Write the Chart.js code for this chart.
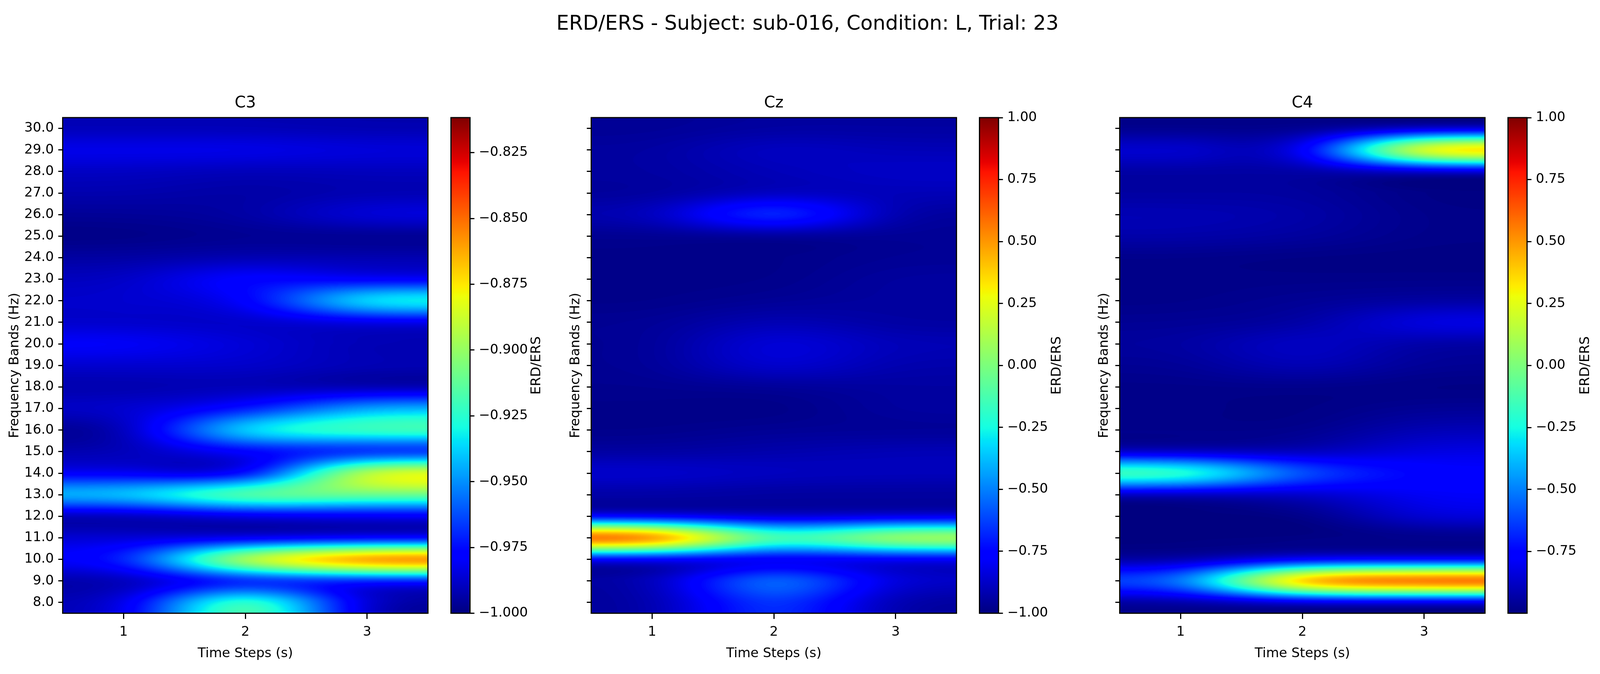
<!DOCTYPE html>
<html lang="en">
  <head>
    <meta charset="UTF-8" />
    <title>ERD/ERS</title>
    <script src="https://cdn.jsdelivr.net/npm/chart.js@4"></script>
    <style>
      body { margin: 0; background: #fff; overflow: hidden; }
      canvas { position: absolute; top: 180px; }
      #suptitle {
        position: absolute; top: 58px; transform: translate(-50%, -50%);
        font-family: "DejaVu Sans"; color: #000; white-space: nowrap;
      }
    </style>
  </head>
  <body>
    <div id="suptitle">ERD/ERS - Subject: sub-016, Condition: L, Trial: 23</div>

    <script>
      const timeSteps = [1, 2, 3];
      const bands = [30, 29, 28, 27, 26, 25, 24, 23, 22, 21, 20, 19, 18, 17, 16, 15, 14, 13, 12, 11, 10, 9, 8];

      // one row per band (30 Hz first), one value per time step
      const c3Values = [
        [-0.991, -0.991, -0.992], [-0.981, -0.981, -0.984], [-0.989, -0.991, -0.990],
        [-0.992, -0.994, -0.992], [-0.996, -0.994, -0.983], [-0.999, -0.997, -0.998],
        [-0.994, -0.992, -0.992], [-0.989, -0.974, -0.983], [-0.987, -0.982, -0.921],
        [-0.988, -0.989, -0.987], [-0.978, -0.985, -0.992], [-0.987, -0.987, -0.991],
        [-0.993, -0.992, -0.996], [-0.987, -0.976, -0.942], [-0.996, -0.925, -0.912],
        [-0.992, -0.981, -0.982], [-0.983, -0.992, -0.872], [-0.934, -0.898, -0.906],
        [-0.996, -0.990, -0.987], [-0.986, -0.991, -0.990], [-0.975, -0.872, -0.830],
        [-0.994, -0.983, -0.982], [-0.989, -0.902, -0.994]
      ];
      const czValues = [
        [-0.96, -0.94, -0.94], [-0.94, -0.87, -0.90], [-0.94, -0.90, -0.87],
        [-0.95, -0.90, -0.90], [-0.90, -0.56, -0.94], [-0.97, -0.98, -0.96],
        [-0.98, -0.98, -0.96], [-0.98, -0.98, -0.94], [-0.98, -0.96, -0.94],
        [-0.96, -0.90, -0.94], [-0.96, -0.82, -0.90], [-0.96, -0.84, -0.92],
        [-0.97, -0.96, -0.94], [-0.98, -0.99, -0.94], [-0.98, -0.96, -0.96],
        [-0.94, -0.92, -0.90], [-0.85, -0.88, -0.89], [-0.94, -0.95, -0.95],
        [-0.91, -0.92, -0.91], [0.90, -0.08, 0.28], [-0.92, -0.89, -0.88],
        [-0.93, -0.43, -0.86], [-0.94, -0.60, -0.94]
      ];
      const c4Values = [
        [-0.98, -0.98, -0.98], [-0.84, -0.88, 0.62], [-0.94, -0.94, -0.98],
        [-0.94, -0.94, -0.99], [-0.90, -0.92, -0.98], [-0.92, -0.94, -0.98],
        [-0.98, -0.99, -0.99], [-0.98, -0.98, -0.98], [-0.98, -0.96, -0.94],
        [-0.96, -0.94, -0.80], [-0.94, -0.86, -0.94], [-0.96, -0.89, -0.96],
        [-0.98, -0.98, -0.99], [-0.98, -0.99, -0.96], [-0.98, -0.98, -0.90],
        [-0.94, -0.92, -0.82], [0.00, -0.56, -0.76], [-0.96, -0.89, -0.78],
        [-0.999, -0.999, -0.83], [-0.999, -0.999, -0.999], [-0.96, -0.88, -0.88],
        [-0.53, 0.78, 0.92], [-0.97, -0.976, -0.98]
      ];

      const c3Range = [-1.0, -0.8117];
      const czRange = [-1.0, 1.0];
      const c4Range = [-0.999, 1.0];
      const c3BarTicks = [-1.0, -0.975, -0.95, -0.925, -0.9, -0.875, -0.85, -0.825];
      const czBarTicks = [-1.0, -0.75, -0.5, -0.25, 0, 0.25, 0.5, 0.75, 1.0];
      const c4BarTicks = [-0.75, -0.5, -0.25, 0, 0.25, 0.5, 0.75, 1.0];

      // the browser caps the window at 4096 wide, so the 5322 wide layout is
      // squeezed along x only; fonts shrink a bit so labels still fit
      const SX = Math.min(1, window.innerWidth / 5322);
      const FS = SX + (1 - SX) * 0.2;
      const FONT = "DejaVu Sans";
      const TICK_PX = 41.67 * FS;
      const AXIS_TITLE_PX = 50 * FS;
      const LINE_PX = 3;
      const TICK_LEN = 14.6;

      const title = document.getElementById("suptitle");
      title.style.left = 2686 * SX + "px";
      title.style.fontSize = 66.67 * SX + "px";

      // matplotlib jet, 256 levels
      const JET_R = [[0, 0], [0.35, 0], [0.66, 1], [0.89, 1], [1, 0.5]];
      const JET_G = [[0, 0], [0.125, 0], [0.375, 1], [0.64, 1], [0.91, 0], [1, 0]];
      const JET_B = [[0, 0.5], [0.11, 1], [0.34, 1], [0.65, 0], [1, 0]];
      function seg(table, n) {
        for (let i = 1; i < table.length; i++) {
          if (n <= table[i][0]) {
            const a = table[i - 1], b = table[i];
            return a[1] + (b[1] - a[1]) * (n - a[0]) / (b[0] - a[0]);
          }
        }
        return table[table.length - 1][1];
      }
      const jetLut = [];
      for (let i = 0; i < 256; i++) {
        const n = i / 255;
        jetLut.push([seg(JET_R, n) * 255, seg(JET_G, n) * 255, seg(JET_B, n) * 255]);
      }
      function lutIndex(n) {
        return Math.max(0, Math.min(255, Math.floor(n * 256)));
      }

      // smooth cubic image kernel
      const KB = 0.6, KC = 0.2;
      function kernel(x) {
        x = Math.abs(x);
        if (x < 1) return ((12 - 9 * KB - 6 * KC) * x * x * x + (-18 + 12 * KB + 6 * KC) * x * x + (6 - 2 * KB)) / 6;
        if (x < 2) return ((-KB - 6 * KC) * x * x * x + (6 * KB + 30 * KC) * x * x + (-12 * KB - 48 * KC) * x + (8 * KB + 24 * KC)) / 6;
        return 0;
      }
      function weights(pos, count) {
        const i0 = Math.floor(pos), out = [];
        for (let i = i0 - 1; i <= i0 + 2; i++) {
          out.push([Math.max(0, Math.min(count - 1, i)), kernel(pos - i)]);
        }
        return out;
      }

      const heatmapPlugin = {
        id: "heatmap",
        beforeDatasetsDraw(chart, args, opts) {
          const { ctx, chartArea, scales } = chart;
          const x0 = Math.floor(chartArea.left), y0 = Math.floor(chartArea.top);
          const w = Math.ceil(chartArea.right) - x0, h = Math.ceil(chartArea.bottom) - y0;
          const img = ctx.createImageData(w, h);
          const rowsW = [];
          for (let py = 0; py < h; py++) {
            const f = scales.y.getValueForPixel(y0 + py + 0.5);
            rowsW.push(weights(bands[0] - f, bands.length));
          }
          const column = new Float64Array(bands.length);
          for (let px = 0; px < w; px++) {
            const t = scales.x.getValueForPixel(x0 + px + 0.5);
            const colW = weights(t - timeSteps[0], timeSteps.length);
            for (let r = 0; r < bands.length; r++) {
              let s = 0;
              for (const [c, k] of colW) s += k * opts.values[r][c];
              column[r] = s;
            }
            for (let py = 0; py < h; py++) {
              let s = 0;
              for (const [r, k] of rowsW[py]) s += k * column[r];
              const rgb = jetLut[lutIndex((s - opts.range[0]) / (opts.range[1] - opts.range[0]))];
              const o = (py * w + px) * 4;
              img.data[o] = rgb[0];
              img.data[o + 1] = rgb[1];
              img.data[o + 2] = rgb[2];
              img.data[o + 3] = 255;
            }
          }
          ctx.putImageData(img, x0, y0);
        }
      };

      const framePlugin = {
        id: "frame",
        afterDraw(chart, args, opts) {
          const { ctx, chartArea } = chart;
          ctx.save();
          ctx.strokeStyle = "#000";
          ctx.lineWidth = LINE_PX;
          ctx.strokeRect(chartArea.left, chartArea.top, chartArea.width, chartArea.height);
          if (opts.label) {
            ctx.translate(chartArea.right + opts.labelOffset, (chartArea.top + chartArea.bottom) / 2);
            ctx.rotate(-Math.PI / 2);
            ctx.font = TICK_PX + 'px "' + FONT + '"';
            ctx.fillStyle = "#000";
            ctx.textAlign = "center";
            ctx.textBaseline = "middle";
            ctx.fillText(opts.label, 0, 0);
          }
          ctx.restore();
        }
      };

      function tickGrid(len) {
        return {
          drawOnChartArea: false, drawTicks: true, tickLength: len,
          tickWidth: LINE_PX, tickColor: "#000"
        };
      }

      function addCanvas(left, width) {
        const c = document.createElement("canvas");
        c.width = width;
        c.height = 1545;
        c.style.left = left + "px";
        document.body.appendChild(c);
        return c;
      }

      // plotLeft / plotRight / labelX are in 5322 wide reference pixels
      function heatmap(name, values, range, plotLeft, plotRight, labelX, showLabels) {
        const left = Math.floor(showLabels ? 0 : (plotLeft - 86.5) * SX);
        const axisWidth = plotLeft * SX - left;
        const width = Math.ceil(plotRight * SX - left) + 16;
        const points = [];
        bands.forEach((f, r) => timeSteps.forEach((t, c) => points.push({ x: t, y: f, v: values[r][c] })));
        new Chart(addCanvas(left, width), {
          type: "scatter",
          data: { datasets: [{ data: points, pointRadius: 0, showLine: false }] },
          plugins: [heatmapPlugin, framePlugin],
          options: {
            responsive: false, animation: false, devicePixelRatio: 1,
            layout: { padding: { left: 0, top: 0, bottom: 0, right: width - (plotRight * SX - left) } },
            plugins: {
              legend: { display: false },
              tooltip: { enabled: false },
              heatmap: { values: values, range: range },
              title: {
                display: true, text: name, color: "#000", fullSize: false,
                font: { family: FONT, size: AXIS_TITLE_PX, weight: "normal", lineHeight: 1 },
                padding: { top: 84 - AXIS_TITLE_PX / 2, bottom: 121 - 84 - AXIS_TITLE_PX / 2 }
              }
            },
            scales: {
              x: {
                type: "linear", min: 0.5, max: 3.5,
                afterBuildTicks: (s) => { s.ticks = timeSteps.map((v) => ({ value: v })); },
                afterFit: (s) => { s.height = 155.5; },
                border: { display: false },
                grid: tickGrid(TICK_LEN),
                ticks: {
                  color: "#000", padding: 17, maxRotation: 0,
                  font: { family: FONT, size: TICK_PX, lineHeight: 1 },
                  callback: (v) => String(v)
                },
                title: {
                  display: true, text: "Time Steps (s)", color: "#000",
                  font: { family: FONT, size: TICK_PX, lineHeight: 1 },
                  padding: { top: 0, bottom: 52 - TICK_PX / 2 }
                }
              },
              y: {
                type: "linear", min: 7.5, max: 30.5,
                afterBuildTicks: (s) => { s.ticks = bands.map((v) => ({ value: v })); },
                afterFit: (s) => { s.width = axisWidth; },
                border: { display: false },
                grid: tickGrid(TICK_LEN * SX),
                ticks: {
                  display: showLabels, autoSkip: false, color: "#000", padding: TICK_LEN * SX,
                  font: { family: FONT, size: TICK_PX, lineHeight: 1 },
                  callback: (v) => Number(v).toFixed(1)
                },
                title: {
                  display: true, text: "Frequency Bands (Hz)", color: "#000",
                  font: { family: FONT, size: TICK_PX, lineHeight: 1 },
                  padding: { top: labelX * SX - left - TICK_PX / 2, bottom: 0 }
                }
              }
            }
          }
        });
      }

      function colorbar(range, tickValues, digits, barLeft, labelX) {
        const left = Math.floor(barLeft * SX - 20);
        const barWidth = 63.4 * SX;
        const axisWidth = 238.6 * SX;
        const pad = barLeft * SX - left;
        const width = Math.ceil(pad + barWidth + axisWidth);
        new Chart(addCanvas(left, width), {
          type: "bar",
          data: {
            labels: ["ERD/ERS"],
            datasets: [{
              data: [[range[0], range[1]]],
              barPercentage: 1, categoryPercentage: 1, borderWidth: 0,
              backgroundColor: (ctx) => {
                const area = ctx.chart.chartArea;
                if (!area) return "#000";
                const g = ctx.chart.ctx.createLinearGradient(0, area.bottom, 0, area.top);
                jetLut.forEach((c, i) => g.addColorStop(i / 255, `rgb(${c[0]},${c[1]},${c[2]})`));
                return g;
              }
            }]
          },
          plugins: [framePlugin],
          options: {
            responsive: false, animation: false, devicePixelRatio: 1,
            layout: { padding: { left: pad, top: 121, bottom: 155.5, right: width - pad - barWidth - axisWidth } },
            plugins: {
              legend: { display: false },
              tooltip: { enabled: false },
              frame: { label: "ERD/ERS", labelOffset: (labelX - barLeft - 63.4) * SX }
            },
            scales: {
              x: { display: false },
              y: {
                type: "linear", position: "right", min: range[0], max: range[1],
                afterBuildTicks: (s) => { s.ticks = tickValues.map((v) => ({ value: v })); },
                afterFit: (s) => { s.width = axisWidth; },
                border: { display: false },
                grid: tickGrid(TICK_LEN * SX),
                ticks: {
                  autoSkip: false, color: "#000", padding: TICK_LEN * SX,
                  font: { family: FONT, size: TICK_PX, lineHeight: 1 },
                  callback: (v) => Number(v).toFixed(digits).replace("-", "\u2212")
                }
              }
            }
          }
        });
      }

      heatmap("C3", c3Values, c3Range, 208.5, 1423.5, 50, true);
      colorbar(c3Range, c3BarTicks, 3, 1500, 1786);
      heatmap("Cz", czValues, czRange, 1966.5, 3181.5, 1915, false);
      colorbar(czRange, czBarTicks, 2, 3258, 3516);
      heatmap("C4", c4Values, c4Range, 3724.5, 4939.5, 3674, false);
      colorbar(c4Range, c4BarTicks, 2, 5016, 5274);
    </script>
  </body>
</html>
